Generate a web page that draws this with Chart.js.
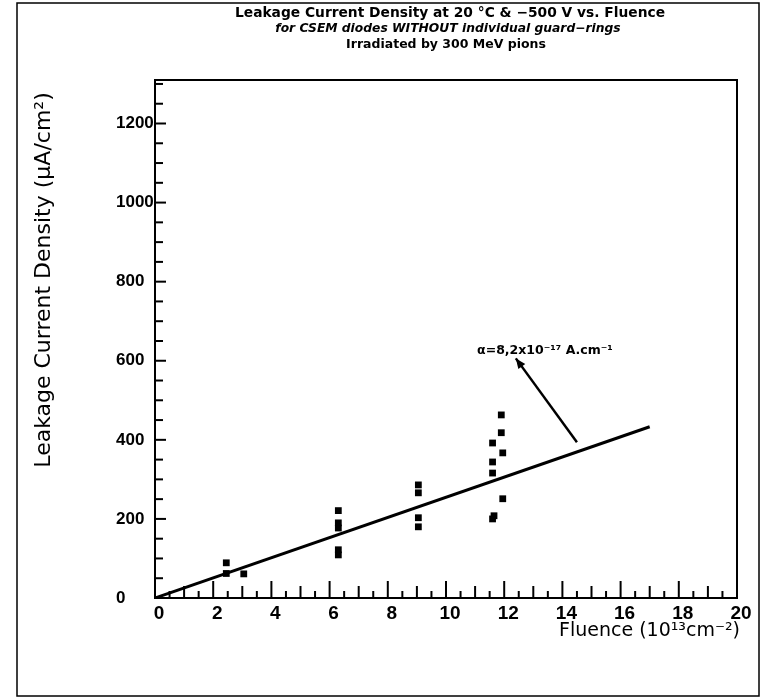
<!DOCTYPE html>
<html>
<head>
<meta charset="utf-8">
<script src="https://cdn.jsdelivr.net/npm/chart.js@4.4.0/dist/chart.umd.min.js"></script>
<style>
  html, body { margin: 0; padding: 0; background: #fff; }
  #wrap { width: 763px; height: 700px; }
</style>
</head>
<body>
<div id="wrap"><canvas id="myChart" width="763" height="700"></canvas></div>
<script>
// data
var fluence = [2.45, 2.45, 3.05,
               6.3, 6.3, 6.3, 6.3, 6.3,
               9.05, 9.05, 9.05, 9.05,
               11.9, 11.9, 11.6, 11.95, 11.6, 11.6, 11.95, 11.65, 11.6];
var density = [89, 62, 61,
               221, 190, 177, 122, 109,
               286, 266, 203, 180,
               463, 418, 392, 367, 344, 316, 251, 208, 200];

var fitFluence = [0, 17];
var fitDensity = [0, 433];

var xTickValues = [0, 2, 4, 6, 8, 10, 12, 14, 16, 18, 20];
var yTickValues = [0, 200, 400, 600, 800, 1000, 1200];

var titleLines = ['Leakage Current Density at 20 °C & \u2212500 V vs. Fluence',
                  'for CSEM diodes WITHOUT individual guard\u2212rings',
                  'Irradiated by 300 MeV pions'];
var xTitle = 'Fluence (10\u00b9\u00b3cm\u207b\u00b2)';
var yTitle = 'Leakage Current Density (\u00b5A/cm\u00b2)';

var alphaNote = { text: '\u03b1=8,2x10\u207b\u00b9\u2077 A.cm\u207b\u00b9', at: [13.4, 626], from: [14.5, 394], to: [12.4, 606] };

// frame, inward ticks, titles and the arrow note
var decor = {
    id: 'decor',
    beforeDraw: function (chart) {
        var c = chart.ctx;
        c.save();
        c.fillStyle = '#fff';
        c.fillRect(0, 0, chart.width, chart.height);
        c.strokeStyle = '#000';
        c.lineWidth = 1.5;
        c.strokeRect(17, 3, 742, 693);
        c.restore();
    },
    afterDraw: function (chart) {
        var c = chart.ctx, a = chart.chartArea;
        var xs = chart.scales.x, ys = chart.scales.y;
        c.save();
        c.strokeStyle = '#000';
        c.lineWidth = 2;
        c.strokeRect(a.left, a.top, a.right - a.left, a.bottom - a.top);

        // x ticks every 0.5, pointing up
        for (var i = 0; i <= 40; i++) {
            var v = i / 2;
            var len = (i % 4 === 0) ? 17 : (i % 2 === 0 ? 12 : 7);
            var px = xs.getPixelForValue(v);
            c.beginPath();
            c.moveTo(px, a.bottom);
            c.lineTo(px, a.bottom - len);
            c.stroke();
        }
        // y ticks every 50, pointing right
        for (var j = 0; j <= 1300; j += 50) {
            var py = ys.getPixelForValue(j);
            var l = (j % 200 === 0) ? 11 : 8;
            c.beginPath();
            c.moveTo(a.left, py);
            c.lineTo(a.left + l, py);
            c.stroke();
        }

        // title
        c.fillStyle = '#000';
        c.textAlign = 'center';
        c.textBaseline = 'middle';
        c.font = 'bold 13.8px "DejaVu Sans"';
        c.fillText(titleLines[0], 450, 13);
        c.font = 'bold italic 12.3px "DejaVu Sans"';
        c.fillText(titleLines[1], 448, 29);
        c.font = 'bold 12.5px "DejaVu Sans"';
        c.fillText(titleLines[2], 446, 45);

        // axis titles
        c.font = '19px "DejaVu Sans"';
        c.textAlign = 'right';
        c.fillText(xTitle, 740, 631);
        c.save();
        c.translate(44, 280);
        c.rotate(-Math.PI / 2);
        c.textAlign = 'center';
        c.font = '22px "DejaVu Sans"';
        c.fillText(yTitle, 0, 0);
        c.restore();

        // alpha note with arrow
        var fx = xs.getPixelForValue(alphaNote.from[0]), fy = ys.getPixelForValue(alphaNote.from[1]);
        var tx = xs.getPixelForValue(alphaNote.to[0]), ty = ys.getPixelForValue(alphaNote.to[1]);
        c.lineWidth = 2.5;
        c.beginPath();
        c.moveTo(fx, fy);
        c.lineTo(tx, ty);
        c.stroke();
        var ang = Math.atan2(ty - fy, tx - fx);
        c.beginPath();
        c.moveTo(tx, ty);
        c.lineTo(tx - 11 * Math.cos(ang - 0.4), ty - 11 * Math.sin(ang - 0.4));
        c.lineTo(tx - 11 * Math.cos(ang + 0.4), ty - 11 * Math.sin(ang + 0.4));
        c.closePath();
        c.fill();
        c.font = 'bold 12.5px "DejaVu Sans"';
        c.textAlign = 'center';
        c.fillText(alphaNote.text, xs.getPixelForValue(alphaNote.at[0]), ys.getPixelForValue(alphaNote.at[1]));
        c.restore();
    }
};

var ctx = document.getElementById('myChart');
var myChart = new Chart(ctx, {
    type: 'scatter',
    data: {
        datasets: [{
            label: 'fit',
            type: 'line',
            data: fitFluence.map(function (v, i) { return { x: v, y: fitDensity[i] }; }),
            borderColor: '#000',
            borderWidth: 3,
            pointRadius: 0,
            fill: false
        }, {
            label: 'diodes',
            data: fluence.map(function (v, i) { return { x: v, y: density[i] }; }),
            pointStyle: 'rect',
            pointRadius: 4.8,
            backgroundColor: '#000',
            borderColor: '#000',
            borderWidth: 0
        }]
    },
    options: {
        responsive: false,
        animation: false,
        layout: { padding: { left: 116, right: 26, top: 80, bottom: 0 } },
        plugins: { legend: { display: false }, tooltip: { enabled: false } },
        scales: {
            x: {
                type: 'linear', min: 0, max: 20,
                grid: { display: false },
                border: { display: false },
                afterBuildTicks: function (s) { s.ticks = xTickValues.map(function (v) { return { value: v }; }); },
                afterFit: function (s) { s.height = 102; },
                ticks: {
                    color: '#000', font: { family: '"Liberation Sans Narrow", "Liberation Sans"', size: 19, weight: 'bold' },
                    padding: -4, labelOffset: 4, maxRotation: 0,
                    callback: function (v) { return String(v); }
                }
            },
            y: {
                type: 'linear', min: 0, max: 1310,
                grid: { display: false },
                border: { display: false },
                afterBuildTicks: function (s) { s.ticks = yTickValues.map(function (v) { return { value: v }; }); },
                afterFit: function (s) { s.width = 39; },
                ticks: {
                    color: '#000', font: { family: '"Liberation Sans Narrow", "Liberation Sans"', size: 17, weight: 'bold' }, crossAlign: 'far',
                    callback: function (v) { return String(v); }
                }
            }
        }
    },
    plugins: [decor]
});
</script>
</body>
</html>
